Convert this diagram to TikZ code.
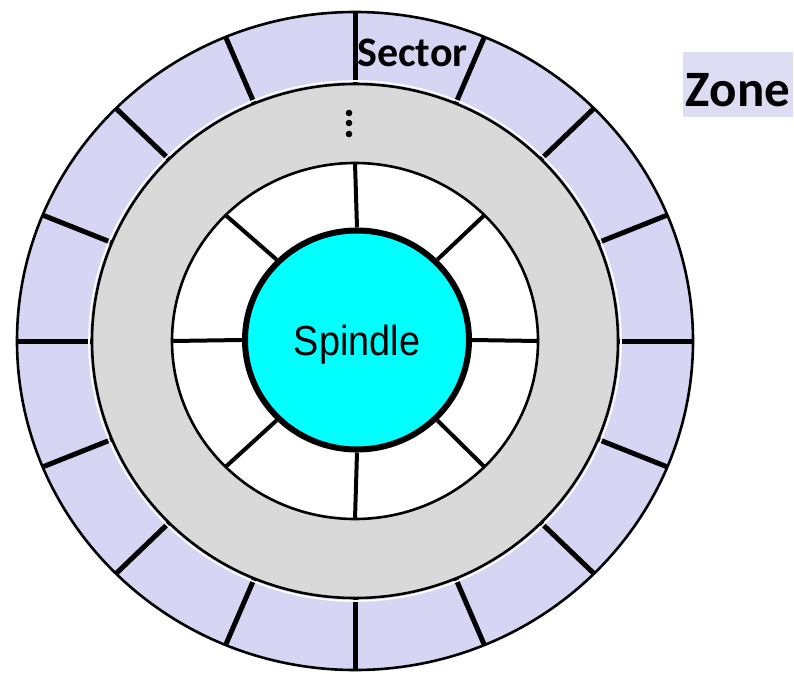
\documentclass[tikz,border=0pt]{standalone}
\usepackage{fontspec}
\setmainfont{Carlito}
\newfontfamily\spindlefont[FakeStretch=0.9]{Liberation Sans}
\usetikzlibrary{calc,shapes.geometric}

\definecolor{zoneblue}{HTML}{D6D6F4}
\definecolor{zonelabel}{HTML}{DCDCF2}
\definecolor{platter}{HTML}{D9D9D9}
\definecolor{spincyan}{HTML}{00FFFF}

\tikzset{
  ring/.style={draw=black, line width=2.6pt},
  sectorline/.style={line width=5pt},
  spoke/.style={line width=4pt},
  bigword/.style={font=\bfseries\fontsize{42}{42}\selectfont, inner sep=0pt}
}

\begin{document}
\begin{tikzpicture}[x=1pt, y=1pt]
  \useasboundingbox (0,0) rectangle (794,673);
  \coordinate (hub) at (355,332);

  % outer zone with its sectors
  \draw[ring, fill=zoneblue] (hub) ellipse [x radius=338, y radius=329];
  \foreach \a in {0,22.5,...,337.5}
    \draw[sectorline] ($(hub)+(\a:263 and 257)$) -- ($(hub)+(\a:338 and 329)$);

  % middle zones
  \draw[white, line width=1.6pt] (hub) ellipse [x radius=266, y radius=260];
  \draw[ring, fill=platter] (hub) ellipse [x radius=263, y radius=257];
  \foreach \y in {560,550,539}
    \fill (349,\y) circle [radius=3.3];

  % inner zone
  \draw[ring, fill=white] (hub) ellipse [x radius=183, y radius=178];
  \node[ellipse, draw, line width=6pt, fill=spincyan, minimum width=224pt, minimum height=219pt,
        inner sep=0pt, text depth=0pt, font=\spindlefont\fontsize{42}{42}\selectfont] (spindle) at (357,333) {Spindle};
  \foreach \a in {0,45,...,315}
    \draw[spoke] (spindle.\a) -- ($(hub)+(\a:183 and 178)$);

  % labels
  \node[bigword, anchor=base] (sector) at (412.5,606) {Sector};
  \node[bigword, fill=zonelabel, font=\bfseries\fontsize{51}{51}\selectfont, minimum width=110pt,
        minimum height=65pt, text height=45pt, text depth=0pt] (zone) at (738,588.5) {Zone};
\end{tikzpicture}
\end{document}
